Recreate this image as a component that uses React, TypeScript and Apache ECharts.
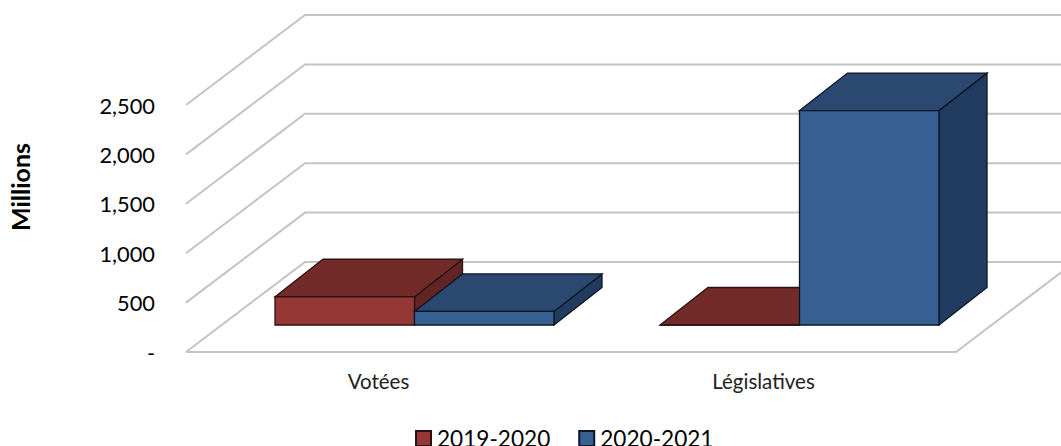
import React, { useEffect, useRef } from "react";
import * as echarts from "echarts";

const categories = ["Votées", "Législatives"];
const values2019 = [286, 0];
const values2020 = [137, 2170];
const ticks = [0, 500, 1000, 1500, 2000, 2500];
const seriesNames = ["2019-2020", "2020-2021"];

const wallDx = 119;
const wallDy = 90;
const baseDx = 36;
const baseDy = 27;
const depthDx = 48;
const depthDy = 37.5;
const barFraction = 139.5 / 385;

const faces = [
  { front: "#953735", top: "#722b28", side: "#632523", stroke: "#2a1211" },
  { front: "#376092", top: "#2b4870", side: "#213c5e", stroke: "#0c1725" },
];

function renderWall(params: any, api: any) {
  const cs = params.coordSys;
  const v = api.value(0);
  const y = api.coord([0, v])[1];
  const left = cs.x;
  const right = cs.x + cs.width;
  const lineStyle = { stroke: "#c4c4c4", fill: "none", lineWidth: 2 };
  const children: any[] = [
    {
      type: "polyline",
      shape: { points: [[left, y], [left + wallDx, y - wallDy], [right + wallDx, y - wallDy]] },
      style: lineStyle,
    },
  ];
  if (v === 0) {
    children.push({
      type: "polyline",
      shape: { points: [[left, y], [right, y], [right + wallDx, y - wallDy]] },
      style: lineStyle,
    });
  }
  return { type: "group", children };
}

function makeBarRenderer(seriesIndex: number) {
  return (_params: any, api: any) => {
    const cat = api.value(0);
    const val = api.value(1);
    const band = api.size([1, 0])[0];
    const scale = band / 385;
    const w = barFraction * band;
    const zero = api.coord([cat, 0]);
    const topPt = api.coord([cat, val]);
    const x0 = zero[0] + baseDx * scale - w + seriesIndex * w;
    const x1 = x0 + w;
    const yb = zero[1] - baseDy;
    const yt = topPt[1] - baseDy;
    const f = faces[seriesIndex];
    const edge = { stroke: f.stroke, lineWidth: 1.3 };
    return {
      type: "group",
      children: [
        {
          type: "polygon",
          shape: { points: [[x1, yb], [x1 + depthDx, yb - depthDy], [x1 + depthDx, yt - depthDy], [x1, yt]] },
          style: { fill: f.side, ...edge },
        },
        {
          type: "polygon",
          shape: { points: [[x0, yt], [x1, yt], [x1 + depthDx, yt - depthDy], [x0 + depthDx, yt - depthDy]] },
          style: { fill: f.top, ...edge },
        },
        {
          type: "polygon",
          shape: { points: [[x0, yb], [x1, yb], [x1, yt], [x0, yt]] },
          style: { fill: f.front, ...edge },
        },
      ],
    };
  };
}

export default function App() {
  const ref = useRef<HTMLDivElement>(null);
  useEffect(() => {
    document.body.style.margin = "0";
    const chart = echarts.init(ref.current!, undefined, { renderer: "svg" });
    chart.setOption({
      animation: false,
      backgroundColor: "#ffffff",
      grid: { left: 186, top: 105, width: 770, height: 247, containLabel: false },
      xAxis: {
        type: "category",
        data: categories,
        axisLine: { show: false },
        axisTick: { show: false },
        axisLabel: { fontFamily: "Lato", fontSize: 20.5, color: "#222222", margin: 18 },
      },
      yAxis: {
        type: "value",
        min: 0,
        max: 2500,
        interval: 500,
        axisLine: { show: false },
        axisTick: { show: false },
        splitLine: { show: false },
        axisLabel: {
          fontFamily: "Lato",
          fontSize: 21.8,
          color: "#000000",
          margin: 31,
          padding: [3, 0, 0, 0],
          formatter: (v: number) => (v === 0 ? "-" : v.toLocaleString("en-US")),
        },
      },
      graphic: [
        {
          type: "text",
          x: 20,
          y: 187,
          rotation: Math.PI / 2,
          style: {
            text: "Millions",
            fontFamily: "Lato",
            fontWeight: "bold",
            fontSize: 25,
            fill: "#000000",
            textAlign: "center",
            textVerticalAlign: "middle",
          },
        },
      ],
      legend: {
        left: 415,
        top: 427,
        padding: 0,
        itemWidth: 15,
        itemHeight: 15,
        itemGap: 28,
        icon: "rect",
        data: seriesNames,
        textStyle: { fontFamily: "Lato", fontSize: 22.6, lineHeight: 16, color: "#000000", padding: [0, 0, 0, 1] },
      },
      series: [
        {
          name: "walls",
          type: "custom",
          renderItem: renderWall,
          data: ticks.map((t) => [t]),
          encode: { y: 0 },
          silent: true,
          z: 1,
        },
        {
          name: seriesNames[0],
          type: "custom",
          renderItem: makeBarRenderer(0),
          data: values2019.map((v, i) => [i, v]),
          encode: { x: 0, y: 1 },
          itemStyle: { color: faces[0].front, borderColor: faces[0].stroke, borderWidth: 1 },
          z: 2,
        },
        {
          name: seriesNames[1],
          type: "custom",
          renderItem: makeBarRenderer(1),
          data: values2020.map((v, i) => [i, v]),
          encode: { x: 0, y: 1 },
          itemStyle: { color: faces[1].front, borderColor: faces[1].stroke, borderWidth: 1 },
          z: 3,
        },
      ],
    });
    return () => chart.dispose();
  }, []);
  return <div ref={ref} style={{ width: 1061, height: 446 }} />;
}
